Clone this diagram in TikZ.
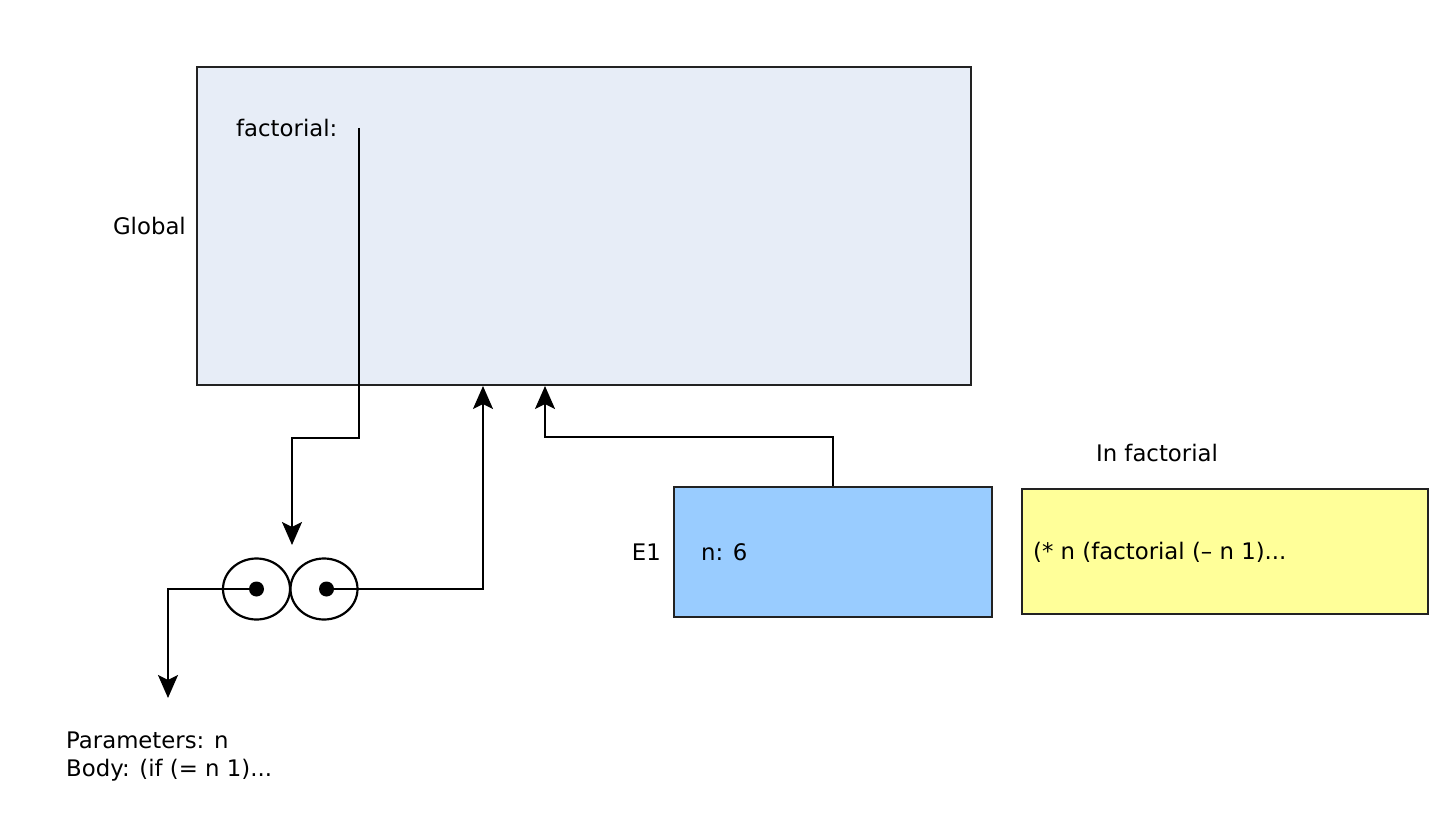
\documentclass[tikz,border=0pt]{standalone}
\usepackage{fontspec}
\setmainfont{DejaVu Sans}
\usetikzlibrary{shapes.geometric,arrows.meta}
\definecolor{globfill}{HTML}{E7EDF7}
\definecolor{efill}{HTML}{99CCFF}
\definecolor{yfill}{HTML}{FFFF99}
\definecolor{edge}{HTML}{222222}
\tikzset{
  frame/.style={draw=edge,line width=2pt,inner sep=0pt,rectangle},
  lbl/.style={font=\fontsize{22.8}{28}\selectfont,inner sep=0pt,text=black},
  ptr/.style={draw=black,line width=2.2pt,-{Stealth[length=23pt,width=20pt,inset=5pt]}},
  eye/.style={ellipse,draw=black,line width=2.2pt,minimum width=67pt,minimum height=61pt,inner sep=0pt},
  dot/.style={circle,fill=black,minimum size=15pt,inner sep=0pt}
}
\begin{document}
\begin{tikzpicture}[x=1pt,y=-1pt]
\useasboundingbox[fill=white] (0,0) rectangle (1440,840);
% frames
\node[frame,fill=globfill,minimum width=774pt,minimum height=318pt] (global) at (584,226) {};
\node[frame,fill=efill,minimum width=318pt,minimum height=130pt] (e1) at (833,552) {};
\node[frame,fill=yfill,minimum width=406pt,minimum height=125pt] (body) at (1225,551.5) {};
% labels
\node[lbl,anchor=east] (globallbl) at (186,226) {Global};
\node[lbl,anchor=west] (factlbl) at (236,128) {factorial:};
\node[lbl,anchor=east] (e1lbl) at (661,552) {E1};
\node[lbl,anchor=west] (nlbl) at (701,552) {n: 6};
\node[lbl] (inlbl) at (1157,453) {In factorial};
\node[lbl,anchor=west] (bodytxt) at (1033,552) {(* n (factorial (– n 1)...};
\node[lbl,anchor=north west,align=left] (params) at (66,732) {Parameters: n\\Body: (if (= n 1)...};
% procedure object
\node[eye] (leye) at (256.5,589) {};
\node[eye] (reye) at (324,589) {};
\node[dot] (ldot) at (256.5,589) {};
\node[dot] (rdot) at (326.5,589) {};
% coordinates
\coordinate (fstart) at (359,128);
\coordinate (fbend) at (292,438);
\coordinate (ptip) at (292,545);
\coordinate (partip) at (168,698);
\coordinate (gtipA) at (483,386);
\coordinate (gtipB) at (545,386);
\coordinate (ebend) at (545,437);
% connectors
\draw[ptr] (fstart) |- (fbend) -- (ptip);
\draw[ptr] (ldot.center) -| (partip);
\draw[ptr] (rdot.center) -| (gtipA);
\draw[ptr] (e1.north) |- (ebend) -- (gtipB);
\end{tikzpicture}
\end{document}
